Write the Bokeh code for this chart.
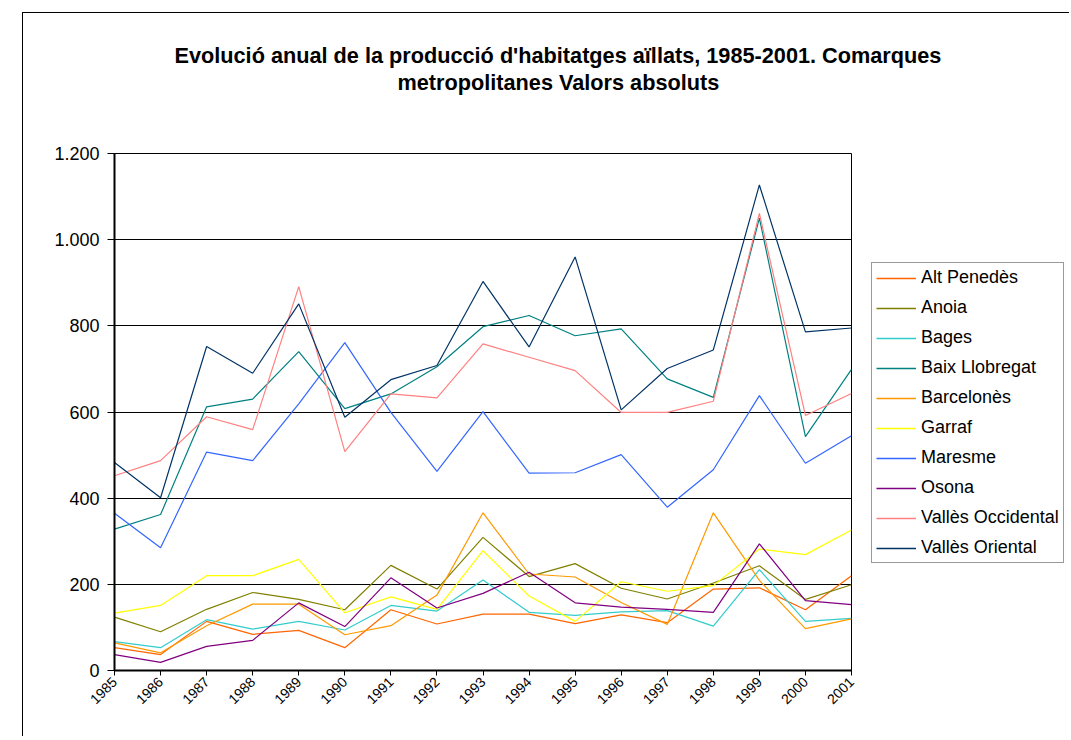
import math
from bokeh.plotting import figure
from bokeh.models import (Legend, LegendItem, FixedTicker, Title,
                          Range1d, CustomJSTickFormatter)
from bokeh.embed import file_html
from bokeh.resources import INLINE

years = list(range(1985, 2002))

alt_penedes = [53, 37, 114, 84, 93, 53, 141, 108, 131, 131, 109, 129, 111, 189, 192, 141, 220]
anoia = [124, 90, 142, 181, 165, 141, 244, 189, 309, 218, 248, 191, 166, 203, 243, 165, 199]
bages = [67, 53, 118, 96, 114, 94, 151, 138, 210, 135, 128, 136, 139, 103, 234, 114, 121]
baix_llobregat = [328, 362, 612, 630, 740, 608, 642, 705, 798, 824, 777, 793, 677, 634, 1050, 543, 699]
barcelones = [64, 41, 104, 154, 154, 83, 104, 175, 366, 224, 217, 158, 107, 366, 209, 97, 120]
garraf = [133, 151, 220, 220, 258, 134, 171, 142, 278, 173, 114, 206, 184, 197, 282, 269, 326]
maresme = [365, 285, 507, 487, 619, 761, 599, 462, 601, 458, 459, 501, 379, 466, 638, 481, 545]
osona = [37, 19, 56, 70, 157, 102, 215, 145, 179, 228, 157, 147, 142, 135, 294, 162, 153]
valles_occidental = [452, 487, 589, 559, 891, 508, 642, 633, 758, 727, 696, 599, 599, 625, 1061, 592, 643]
valles_oriental = [483, 401, 752, 690, 851, 588, 675, 708, 903, 751, 960, 605, 701, 744, 1127, 786, 795]

series_names = ["Alt Penedès", "Anoia", "Bages", "Baix Llobregat", "Barcelonès",
                "Garraf", "Maresme", "Osona", "Vallès Occidental", "Vallès Oriental"]
series_values = [alt_penedes, anoia, bages, baix_llobregat, barcelones,
                 garraf, maresme, osona, valles_occidental, valles_oriental]
series_colors = ["#FF6600", "#808000", "#33CCCC", "#008080", "#FF9900",
                 "#FFFF00", "#3366FF", "#800080", "#FF8080", "#003366"]

y_ticks = [0, 200, 400, 600, 800, 1000, 1200]

title_line1 = "Evolució anual de la producció d'habitatges aïllats, 1985-2001. Comarques"
title_line2 = "metropolitanes Valors absoluts"

FONT = "Liberation Sans"

# ---------------- main chart ----------------
p = figure(width=1047, height=724, output_backend="svg", toolbar_location=None,
           x_range=Range1d(1985, 2001), y_range=Range1d(0, 1200),
           min_border_left=91, min_border_right=219, min_border_top=140,
           min_border_bottom=67)
p.styles = {"margin-left": "22px", "margin-top": "12px",
            "border-left": "1px solid black", "border-top": "1px solid black"}
p.title.text = ""
p.background_fill_color = "white"
p.border_fill_color = "white"
p.outline_line_color = "black"
p.outline_line_width = 1

p.xgrid.visible = False
p.ygrid.ticker = FixedTicker(ticks=y_ticks)
p.ygrid.grid_line_color = "black"
p.ygrid.grid_line_width = 1

p.yaxis.ticker = FixedTicker(ticks=y_ticks)
p.yaxis.formatter = CustomJSTickFormatter(code="""
    if (tick >= 1000) {
        const th = Math.floor(tick / 1000);
        const rest = String(Math.round(tick % 1000)).padStart(3, "0");
        return th + "." + rest;
    }
    return String(tick);
""")
p.yaxis.major_tick_out = 7
p.yaxis.major_tick_in = 0
p.yaxis.minor_tick_line_color = None
p.yaxis.major_label_standoff = 8
p.yaxis.major_label_text_font = FONT
p.yaxis.major_label_text_font_size = "18px"
p.yaxis.major_label_text_color = "black"
p.yaxis.axis_line_width = 2
p.yaxis.axis_line_color = "black"

p.xaxis.ticker = FixedTicker(ticks=years)
p.xaxis.major_label_orientation = math.pi / 4
p.xaxis.major_tick_out = 5
p.xaxis.major_tick_in = 0
p.xaxis.minor_tick_line_color = None
p.xaxis.major_label_standoff = 4
p.xaxis.major_label_text_font = FONT
p.xaxis.major_label_text_font_size = "14px"
p.xaxis.major_label_text_color = "black"
p.xaxis.axis_line_width = 2
p.xaxis.axis_line_color = "black"

for name, vals, col in zip(series_names, series_values, series_colors):
    p.line(years, vals, line_color=col, line_width=1.2)

spacer = Title(text=" ", standoff=56, text_font_size="1px")
t2 = Title(text=title_line2, align="left", offset=283, vertical_align="bottom",
           standoff=0, text_font=FONT, text_font_style="bold",
           text_font_size="21.7px", text_color="black")
t1 = Title(text=title_line1, align="left", offset=60, vertical_align="bottom",
           standoff=0, text_font=FONT, text_font_style="bold",
           text_font_size="21.7px", text_color="black")
p.add_layout(spacer, "above")
p.add_layout(t2, "above")
p.add_layout(t1, "above")

# ---------------- legend box (separate small figure) ----------------
leg = figure(width=200, height=308, output_backend="svg", toolbar_location=None,
             x_axis_type=None, y_axis_type=None,
             x_range=Range1d(0, 1), y_range=Range1d(0, 1),
             min_border_left=0, min_border_right=0, min_border_top=0,
             min_border_bottom=0)
leg.styles = {"position": "absolute", "left": "870px", "top": "261px"}
leg.title.text = ""
leg.outline_line_color = None
leg.background_fill_color = "white"
leg.border_fill_color = "white"

items = []
for name, vals, col in zip(series_names, series_values, series_colors):
    r = leg.line(years, vals, line_color=col, line_width=1.5)
    items.append(LegendItem(label=name, renderers=[r]))

legend = Legend(items=items, location="top_left", margin=1, padding=4,
                spacing=9, glyph_width=40, glyph_height=20, label_height=20,
                label_standoff=5, label_text_font=FONT, label_text_font_size="18px",
                label_text_color="black", border_line_color="#333333",
                border_line_width=1, background_fill_color="white",
                background_fill_alpha=1)
leg.add_layout(legend, "center")

open("out.html", "w").write(file_html([p, leg], INLINE))
